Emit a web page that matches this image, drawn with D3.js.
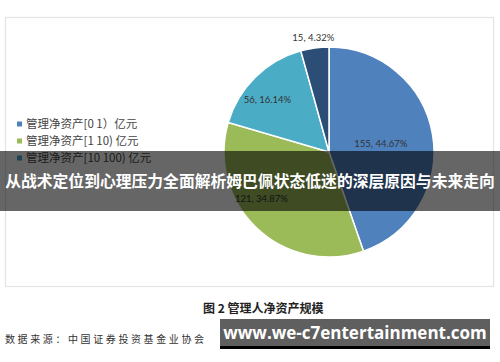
<!DOCTYPE html>
<html>
<head>
<meta charset="utf-8">
<script src="https://cdn.jsdelivr.net/npm/d3@7"></script>
<style>
  body { margin: 0; background: #fff; }
  svg { display: block; }
</style>
</head>
<body>
<script>
// slice data, clockwise from 12 o'clock
var categories = ["管理净资产[0 1）亿元", "管理净资产[1 10) 亿元", "管理净资产[10 100) 亿元"];
var counts = [155, 121, 56, 15];
var shares = ["44.67%", "34.87%", "16.14%", "4.32%"];
var colors = ["#4f81bd", "#9bbb59", "#4bacc6", "#2c4d75"];

// label placement per slice: [radius factor, angle shift in degrees]
var labelPlace = [[0.5, 0], [0.78, 12], [0.77, -5], [1.1, 0]];

var width = 500,
    height = 362;

var svg = d3.select("body").append("svg")
    .attr("width", width)
    .attr("height", height);

// chart frame
svg.append("rect")
    .attr("x", 5.5).attr("y", 17.5)
    .attr("width", 488).attr("height", 269)
    .attr("fill", "#fff")
    .attr("stroke", "#e3e3e3")
    .attr("stroke-width", 1.2);

var cx = 329, cy = 152, radius = 105;

var pie = d3.pie().sort(null).value(function(d){ return d; });
var arc = d3.arc().innerRadius(0).outerRadius(radius);
var slices = pie(counts);

var g = svg.append("g").attr("transform", "translate(" + cx + "," + cy + ")");

g.selectAll("path")
    .data(slices)
  .enter().append("path")
    .attr("d", arc)
    .attr("fill", function(d, i){ return colors[i]; })
    .attr("stroke", "#fff")
    .attr("stroke-width", 1.5);

g.selectAll("text")
    .data(slices)
  .enter().append("text")
    .attr("transform", function(d, i){
      var a = (d.startAngle + d.endAngle) / 2 + labelPlace[i][1] * Math.PI / 180;
      var r = radius * labelPlace[i][0];
      return "translate(" + (Math.sin(a) * r) + "," + (-Math.cos(a) * r) + ")";
    })
    .attr("text-anchor", "middle")
    .attr("dy", "0.35em")
    .attr("font-family", "Lato, 'Liberation Sans', sans-serif")
    .attr("font-size", 9.5)
    .attr("fill", "#333")
    .text(function(d, i){ return counts[i] + ", " + shares[i]; });

// legend
var legend = svg.append("g")
    .selectAll("g")
    .data(categories)
  .enter().append("g")
    .attr("transform", function(d, i){ return "translate(17," + (124 + i * 17) + ")"; });

legend.append("rect")
    .attr("x", 0).attr("y", -2.5)
    .attr("width", 5).attr("height", 5)
    .attr("fill", function(d, i){ return colors[i]; });

legend.append("text")
    .attr("x", 9)
    .attr("dy", "0.35em")
    .attr("font-family", "'Noto Sans CJK SC', sans-serif")
    .attr("font-size", 11.5)
    .attr("fill", "#444")
    .text(function(d){ return d; });

// caption and source
svg.append("text")
    .attr("x", 203).attr("y", 313)
    .attr("font-family", "'Noto Sans CJK SC', sans-serif")
    .attr("font-size", 12)
    .attr("font-weight", "bold")
    .attr("fill", "#222")
    .text("图 2  管理人净资产规模");

svg.append("text")
    .attr("x", 5).attr("y", 343)
    .attr("font-family", "'Noto Sans CJK SC', sans-serif")
    .attr("font-size", 10)
    .attr("letter-spacing", 2.6)
    .attr("fill", "#333")
    .text("数据来源：中国证券投资基金业协会");

// headline banner
svg.append("rect")
    .attr("x", 0).attr("y", 151)
    .attr("width", width).attr("height", 60)
    .attr("fill", "rgba(0,0,0,0.6)");

svg.append("text")
    .attr("x", width / 2).attr("y", 181)
    .attr("text-anchor", "middle")
    .attr("dy", "0.35em")
    .attr("font-family", "'Noto Sans CJK SC', sans-serif")
    .attr("font-size", 15.8)
    .attr("font-weight", "bold")
    .attr("fill", "#fff")
    .text("从战术定位到心理压力全面解析姆巴佩状态低迷的深层原因与未来走向");

// watermark
svg.append("rect")
    .attr("x", 220).attr("y", 319)
    .attr("width", 270).attr("height", 30)
    .attr("fill", "#5f5f5f");
svg.append("rect")
    .attr("x", 220).attr("y", 346)
    .attr("width", 270).attr("height", 3)
    .attr("fill", "#000");

svg.append("text")
    .attr("x", 355).attr("y", 333)
    .attr("text-anchor", "middle")
    .attr("dy", "0.35em")
    .attr("font-family", "'Open Sans', 'DejaVu Sans', sans-serif")
    .attr("font-size", 17)
    .attr("font-weight", "bold")
    .attr("fill", "#fff")
    .text("www.we-c7entertainment.com");
</script>
</body>
</html>
